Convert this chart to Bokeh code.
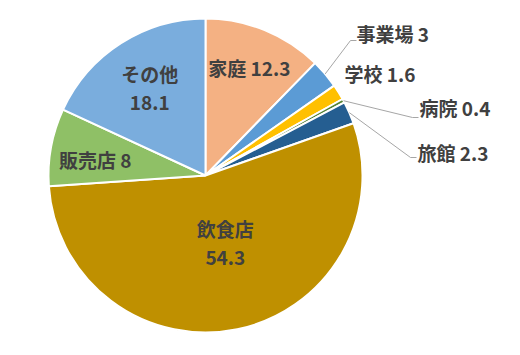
import math
from bokeh.plotting import figure
from bokeh.models import Range1d, ColumnDataSource
from bokeh.core.properties import value
from bokeh.embed import file_html
from bokeh.resources import INLINE

# data
categories = ["家庭", "事業場", "学校", "病院", "旅館", "飲食店", "販売店", "その他"]
values = [12.3, 3, 1.6, 0.4, 2.3, 54.3, 8, 18.1]
colors = ["#F4B183", "#5B9BD5", "#FFC000", "#548235", "#255E91", "#BF9000", "#8FC066", "#7AADDD"]

# layout
W, H = 520, 355
CX, CY, R = 205, H - 175, 157
FONT = value("Noto Sans CJK JP")
TXT = "#404040"
FS = "19px"

total = sum(values)
cum = [0]
for v in values:
    cum.append(cum[-1] + v / total)
starts = [math.pi / 2 - 2 * math.pi * cum[i + 1] for i in range(len(values))]
ends = [math.pi / 2 - 2 * math.pi * cum[i] for i in range(len(values))]
mids = [(s + e) / 2 for s, e in zip(starts, ends)]

p = figure(width=W, height=H, output_backend="svg", toolbar_location=None,
           x_range=Range1d(0, W), y_range=Range1d(0, H), min_border=0)
p.axis.visible = False
p.grid.visible = False
p.outline_line_color = None

src = ColumnDataSource(dict(start=starts, end=ends, color=colors))
p.wedge(x=CX, y=CY, radius=R, start_angle="start", end_angle="end",
        fill_color="color", line_color="white", line_width=2, source=src)

def fmt(v):
    return ("%g" % v)

# inside labels: index -> (radius factor, angle offset (rad), two lines?)
inside = {0: (0.74, 0.0, False), 7: (0.66, 0.0, True), 6: (0.71, 0.04, False), 5: (0.45, 0.08, True)}
for i, (k, da, two) in inside.items():
    a = mids[i] + da
    x = CX + k * R * math.cos(a)
    y = CY + k * R * math.sin(a)
    if two:
        p.text(x=[x, x], y=[y + 15, y - 15], text=[categories[i], fmt(values[i])],
               text_font=FONT, text_font_style="bold", text_font_size=FS,
               text_color=TXT, text_align="center", text_baseline="middle")
    else:
        p.text(x=[x], y=[y], text=[categories[i] + " " + fmt(values[i])],
               text_font=FONT, text_font_style="bold", text_font_size=FS,
               text_color=TXT, text_align="center", text_baseline="middle")

# outside labels: index -> (text x, text y px, leader end x, end y px or None)
outside = {1: (356, 33, 350, 40), 2: (344, 73, None, None),
           3: (419, 107, 412, 117), 4: (417, 152, 410, 157)}
lx, ly = [], []
for i, (tx, ty, ex, ey) in outside.items():
    p.text(x=[tx], y=[H - ty], text=[categories[i] + " " + fmt(values[i])],
           text_font=FONT, text_font_style="bold", text_font_size=FS,
           text_color=TXT, text_align="left", text_baseline="middle")
    if ex is not None:
        sx = CX + R * math.cos(mids[i])
        sy = CY + R * math.sin(mids[i])
        lx.append([sx, ex, ex + 6])
        ly.append([sy, H - ey, H - ey])
p.multi_line(xs=lx, ys=ly, line_color="#A6A6A6", line_width=1)

open("out.html", "w").write(file_html(p, INLINE))
